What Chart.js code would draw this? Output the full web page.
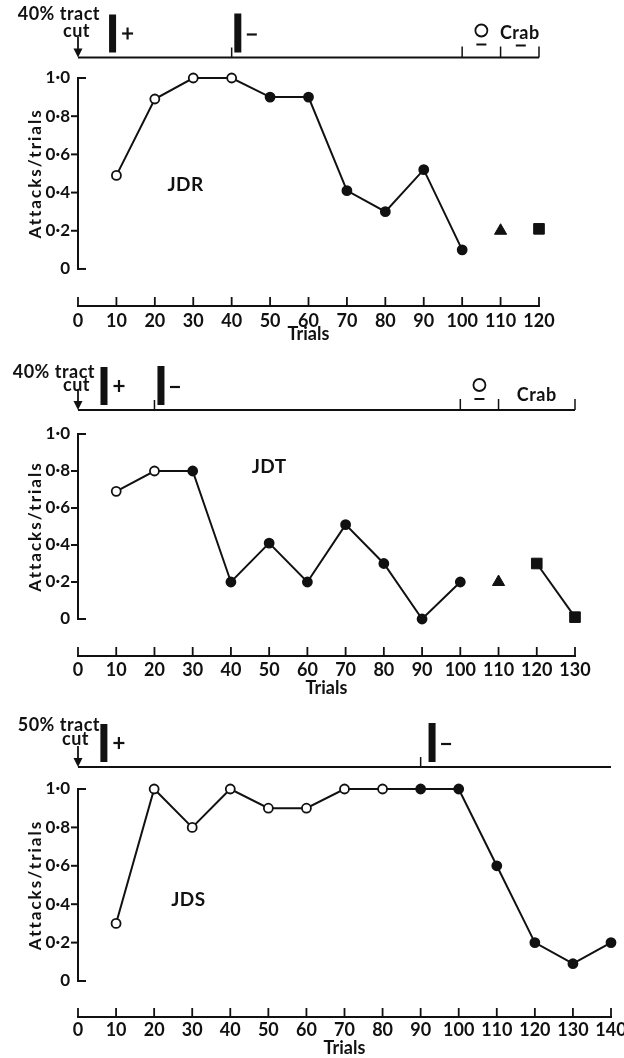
<!DOCTYPE html>
<html lang="en">
<head>
  <meta charset="UTF-8">
  <title>Attacks/trials - JDR, JDT, JDS</title>
  <script src="https://cdn.jsdelivr.net/npm/chart.js"></script>
  <style>
    html, body { margin: 0; padding: 0; background: #fff; }
    body { width: 624px; height: 1058px; position: relative; overflow: hidden; }
    .panel { position: absolute; left: 0; width: 624px; }
  </style>
</head>
<body>
  <div class="panel" style="top:0px;height:345px"><canvas id="jdr" width="624" height="345"></canvas></div>
  <div class="panel" style="top:345px;height:355px"><canvas id="jdt" width="624" height="355"></canvas></div>
  <div class="panel" style="top:700px;height:358px"><canvas id="jds" width="624" height="358"></canvas></div>

  <script>
    // ---- data ----
    const yTicks = [0, 0.2, 0.4, 0.6, 0.8, 1.0];

    // JDR, 40% tract cut
    const jdrTrials = [10, 20, 30, 40, 50, 60, 70, 80, 90, 100];
    const jdrRates = [0.49, 0.89, 1.0, 1.0, 0.9, 0.9, 0.41, 0.3, 0.52, 0.1];
    const jdrOpen = [true, true, true, true, false, false, false, false, false, false];
    const jdrTriTrials = [110];
    const jdrTriRates = [0.2];
    const jdrSqTrials = [120];
    const jdrSqRates = [0.21];
    const jdrXTicks = [0, 10, 20, 30, 40, 50, 60, 70, 80, 90, 100, 110, 120];

    // JDT, 40% tract cut
    const jdtTrials = [10, 20, 30, 40, 50, 60, 70, 80, 90, 100];
    const jdtRates = [0.69, 0.8, 0.8, 0.2, 0.41, 0.2, 0.51, 0.3, 0, 0.2];
    const jdtOpen = [true, true, false, false, false, false, false, false, false, false];
    const jdtTriTrials = [110];
    const jdtTriRates = [0.2];
    const jdtSqTrials = [120, 130];
    const jdtSqRates = [0.3, 0.01];
    const jdtXTicks = [0, 10, 20, 30, 40, 50, 60, 70, 80, 90, 100, 110, 120, 130];

    // JDS, 50% tract cut
    const jdsTrials = [10, 20, 30, 40, 50, 60, 70, 80, 90, 100, 110, 120, 130, 140];
    const jdsRates = [0.3, 1.0, 0.8, 1.0, 0.9, 0.9, 1.0, 1.0, 1.0, 1.0, 0.6, 0.2, 0.09, 0.2];
    const jdsOpen = [true, true, true, true, true, true, true, true, false, false, false, false, false, false];
    const jdsXTicks = [0, 10, 20, 30, 40, 50, 60, 70, 80, 90, 100, 110, 120, 130, 140];

    // event strip above each plot (positions in trials)
    const jdrEvents = { plus: 9, minus: 41.6, minusTick: 40, brackets: [100, 110, 120], openMark: 105, crab: 115 };
    const jdtEvents = { plus: 6.8, minus: 21.7, minusTick: 20, brackets: [100, 110, 130], openMark: 105, crab: 120 };
    const jdsEvents = { plus: 6.8, minus: 93, minusTick: 90, brackets: [], openMark: null, crab: null };

    const ink = '#111';
    const FONT = 'Lato, "Open Sans", sans-serif';

    const pts = (xs, ys) => xs.map((x, i) => ({ x: x, y: ys[i] }));

    function line(ctx, x1, y1, x2, y2) {
      ctx.beginPath(); ctx.moveTo(x1, y1); ctx.lineTo(x2, y2); ctx.stroke();
    }

    // axes lines, event strip and labels drawn with the chart's own scales
    const decor = {
      id: 'decor',
      afterDraw(chart, args, o) {
        const { ctx, chartArea: a } = chart;
        const xs = chart.scales.x, ys = chart.scales.y;
        const X = v => xs.getPixelForValue(v);
        const Y = v => ys.getPixelForValue(v);
        const x0 = X(0);
        const yl = a.top - o.gap;
        const ev = o.events;
        ctx.save();
        ctx.strokeStyle = ink;
        ctx.fillStyle = ink;

        // y axis, only 0..1
        ctx.lineWidth = 2;
        line(ctx, x0, Y(0) + 1, x0, Y(1) - 1);
        yTicks.forEach(v => {
          const end = v === 0 || v === 1;
          line(ctx, x0, Y(v), end ? x0 + 8 : x0 - 7, Y(v));
        });

        // x ticks pointing up
        ctx.lineWidth = 1.8;
        xs.ticks.forEach(t => line(ctx, X(t.value), a.bottom, X(t.value), a.bottom - 9));

        // y title
        ctx.save();
        ctx.font = 'bold 17px ' + FONT;
        ctx.letterSpacing = '2px';
        ctx.textAlign = 'center';
        ctx.textBaseline = 'middle';
        ctx.translate(o.titleX, (Y(0) + Y(1)) / 2);
        ctx.rotate(-Math.PI / 2);
        ctx.fillText('Attacks/trials', 0, 0);
        ctx.restore();

        // event strip
        ctx.lineWidth = 2;
        line(ctx, x0, yl, X(xs.max), yl);
        ctx.lineWidth = 1.8;
        line(ctx, x0, yl - 21, x0, yl - 7);
        ctx.beginPath();
        ctx.moveTo(x0 - 4.5, yl - 9); ctx.lineTo(x0 + 4.5, yl - 9); ctx.lineTo(x0, yl);
        ctx.closePath(); ctx.fill();

        ctx.font = 'bold 18px ' + FONT;
        ctx.letterSpacing = '0.5px';
        ctx.textAlign = 'right';
        ctx.textBaseline = 'middle';
        ctx.fillText(o.cut, x0 + o.tractDx, yl - o.tractDy);
        ctx.fillText('cut', x0 + o.cutDx, yl - o.cutDy);

        // + bar
        ctx.fillRect(X(ev.plus) - 3.5, yl - 43, 7, 38);
        ctx.lineWidth = 2.2;
        const px = X(ev.plus) + 15, py = yl - 24;
        line(ctx, px - 5.5, py, px + 5.5, py);
        line(ctx, px, py - 6, px, py + 6);
        // - bar
        ctx.fillRect(X(ev.minus) - 3.5, yl - 44, 7, 39);
        line(ctx, X(ev.minus) + 9, yl - 23, X(ev.minus) + 19, yl - 23);
        ctx.lineWidth = 1.5;
        line(ctx, X(ev.minusTick), yl, X(ev.minusTick), yl - 10);

        ev.brackets.forEach(v => line(ctx, X(v), yl, X(v), yl - 11));

        if (ev.openMark != null) {
          ctx.lineWidth = 1.8;
          ctx.beginPath();
          ctx.arc(X(ev.openMark), yl - o.openDy, 6, 0, Math.PI * 2);
          ctx.stroke();
          ctx.lineWidth = 2;
          line(ctx, X(ev.openMark) - 5, yl - o.openDy + 14, X(ev.openMark) + 5, yl - o.openDy + 14);
        }
        if (ev.crab != null) {
          ctx.font = 'bold 18px ' + FONT;
          ctx.letterSpacing = '0.5px';
          ctx.textAlign = 'center';
          ctx.fillText('Crab', X(ev.crab), yl - o.crabDy);
          if (o.crabBar) {
            ctx.lineWidth = 2;
            line(ctx, X(ev.crab) - 4, yl - 12, X(ev.crab) + 6, yl - 12);
          }
        }

        // animal tag
        ctx.font = 'bold 19px ' + FONT;
        ctx.letterSpacing = '0.5px';
        ctx.textAlign = 'center';
        ctx.fillText(o.tag, X(o.tagAt[0]), Y(o.tagAt[1]));
        ctx.restore();
      }
    };

    function makeChart(id, cfg) {
      const mainFill = cfg.open.map(f => f ? '#fff' : ink);
      const datasets = [{
        data: pts(cfg.trials, cfg.rates),
        showLine: true,
        borderColor: ink,
        borderWidth: 2,
        pointStyle: 'circle',
        pointRadius: 4.5,
        pointBorderWidth: 1.8,
        pointBorderColor: ink,
        pointBackgroundColor: mainFill,
        clip: false
      }];
      if (cfg.tri) {
        datasets.push({
          data: pts(cfg.tri[0], cfg.tri[1]),
          showLine: false,
          pointStyle: 'triangle',
          pointRadius: 7,
          pointBorderWidth: 1,
          pointBorderColor: ink,
          pointBackgroundColor: ink,
          clip: false
        });
      }
      if (cfg.sq) {
        datasets.push({
          data: pts(cfg.sq[0], cfg.sq[1]),
          showLine: cfg.sq[0].length > 1,
          borderColor: ink,
          borderWidth: 2,
          pointStyle: 'rect',
          pointRadius: 7.5,
          pointBorderWidth: 1,
          pointBorderColor: ink,
          pointBackgroundColor: ink,
          clip: false
        });
      }

      return new Chart(document.getElementById(id), {
        type: 'scatter',
        data: { datasets: datasets },
        plugins: [decor],
        options: {
          responsive: false,
          animation: false,
          events: [],
          layout: { padding: { left: 0, top: cfg.top, right: cfg.right, bottom: 0 } },
          plugins: {
            legend: { display: false },
            tooltip: { enabled: false },
            decor: cfg.decor
          },
          scales: {
            x: {
              type: 'linear',
              min: 0,
              max: cfg.xTicks[cfg.xTicks.length - 1],
              afterBuildTicks: s => { s.ticks = cfg.xTicks.map(v => ({ value: v })); },
              afterFit: s => { s.height = cfg.axisH; s.paddingLeft = 0; s.paddingRight = 0; },
              grid: { display: false, drawTicks: false },
              border: { display: true, color: ink, width: 2 },
              ticks: {
                color: ink,
                font: { family: FONT, size: 18, weight: 'bold', lineHeight: 1 },
                padding: cfg.tickPad,
                autoSkip: false,
                maxRotation: 0
              },
              title: {
                display: true,
                text: 'Trials',
                color: ink,
                font: { family: FONT, size: 18, weight: 'bold', lineHeight: 1 },
                padding: { top: 0, bottom: cfg.titlePad }
              }
            },
            y: {
              type: 'linear',
              min: cfg.yMin,
              max: 1,
              afterBuildTicks: s => { s.ticks = yTicks.map(v => ({ value: v })); },
              afterFit: s => { s.width = 78; s.paddingTop = 0; s.paddingBottom = 0; },
              grid: { display: false, drawTicks: false },
              border: { display: false },
              ticks: {
                color: ink,
                font: { family: FONT, size: 17, weight: 'bold' },
                padding: 8,
                callback: v => v === 0 ? '0' : v.toFixed(1).replace('.', '\u00b7')
              }
            }
          }
        }
      });
    }

    makeChart('jdr', {
      trials: jdrTrials, rates: jdrRates, open: jdrOpen,
      tri: [jdrTriTrials, jdrTriRates], sq: [jdrSqTrials, jdrSqRates],
      xTicks: jdrXTicks,
      top: 78, right: 85, yMin: -0.194, axisH: 39, tickPad: 6, titlePad: 2,
      decor: {
        events: jdrEvents, gap: 20.5, cut: '40% tract',
        tractDx: 22, tractDy: 43, cutDx: 12, cutDy: 26,
        openDy: 27, crabDy: 24, crabBar: true,
        tag: 'JDR', tagAt: [28, 0.44], titleX: 36
      }
    });

    makeChart('jdt', {
      trials: jdtTrials, rates: jdtRates, open: jdtOpen,
      tri: [jdtTriTrials, jdtTriRates], sq: [jdtSqTrials, jdtSqRates],
      xTicks: jdtXTicks,
      top: 89, right: 49, yMin: -0.2, axisH: 44, tickPad: 5, titlePad: 3,
      decor: {
        events: jdtEvents, gap: 24, cut: '40% tract',
        tractDx: 17, tractDy: 38, cutDx: 12, cutDy: 25,
        openDy: 25, crabDy: 15, crabBar: false,
        tag: 'JDT', tagAt: [50, 0.82], titleX: 36
      }
    });

    makeChart('jds', {
      trials: jdsTrials, rates: jdsRates, open: jdsOpen,
      tri: null, sq: null,
      xTicks: jdsXTicks,
      top: 89, right: 13, yMin: -0.1875, axisH: 41, tickPad: 4, titlePad: 1,
      decor: {
        events: jdsEvents, gap: 22, cut: '50% tract',
        tractDx: 22, tractDy: 42, cutDx: 11, cutDy: 28,
        openDy: 25, crabDy: 15, crabBar: false,
        tag: 'JDS', tagAt: [29, 0.42], titleX: 36
      }
    });
  </script>
</body>
</html>
